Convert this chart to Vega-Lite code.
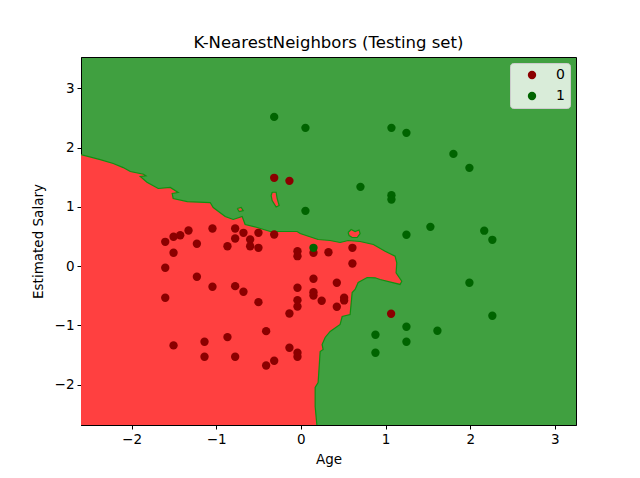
{
  "$schema": "https://vega.github.io/schema/vega-lite/v6.json",
  "width": 495,
  "height": 368,
  "autosize": {"type": "none"},
  "padding": {"left": 81, "top": 57, "right": 64, "bottom": 53},
  "background": "white",
  "title": {
    "text": "K-NearestNeighbors (Testing set)",
    "font": "DejaVu Sans",
    "fontSize": 16.5,
    "fontWeight": "normal",
    "color": "black",
    "anchor": "middle",
    "offset": 6
  },
  "datasets": {
    "region": [
      {"part": "main", "i": 0, "x": -2.7, "y": 1.89},
      {"part": "main", "i": 1, "x": -2.597, "y": 1.884},
      {"part": "main", "i": 2, "x": -2.37, "y": 1.799},
      {"part": "main", "i": 3, "x": -2.216, "y": 1.732},
      {"part": "main", "i": 4, "x": -2.098, "y": 1.664},
      {"part": "main", "i": 5, "x": -2.015, "y": 1.597},
      {"part": "main", "i": 6, "x": -1.858, "y": 1.551},
      {"part": "main", "i": 7, "x": -1.83, "y": 1.524},
      {"part": "main", "i": 8, "x": -1.897, "y": 1.513},
      {"part": "main", "i": 9, "x": -1.818, "y": 1.417},
      {"part": "main", "i": 10, "x": -1.685, "y": 1.311},
      {"part": "main", "i": 11, "x": -1.543, "y": 1.328},
      {"part": "main", "i": 12, "x": -1.449, "y": 1.243},
      {"part": "main", "i": 13, "x": -1.52, "y": 1.226},
      {"part": "main", "i": 14, "x": -1.508, "y": 1.142},
      {"part": "main", "i": 15, "x": -1.342, "y": 1.091},
      {"part": "main", "i": 16, "x": -1.071, "y": 1.074},
      {"part": "main", "i": 17, "x": -1.035, "y": 0.99},
      {"part": "main", "i": 18, "x": -0.894, "y": 0.838},
      {"part": "main", "i": 19, "x": -0.799, "y": 0.788},
      {"part": "main", "i": 20, "x": -0.693, "y": 0.838},
      {"part": "main", "i": 21, "x": -0.658, "y": 0.703},
      {"part": "main", "i": 22, "x": -0.516, "y": 0.653},
      {"part": "main", "i": 23, "x": -0.362, "y": 0.585},
      {"part": "main", "i": 24, "x": -0.044, "y": 0.585},
      {"part": "main", "i": 25, "x": -0.008, "y": 0.551},
      {"part": "main", "i": 26, "x": 0.204, "y": 0.45},
      {"part": "main", "i": 27, "x": 0.346, "y": 0.433},
      {"part": "main", "i": 28, "x": 0.464, "y": 0.4},
      {"part": "main", "i": 29, "x": 0.558, "y": 0.433},
      {"part": "main", "i": 30, "x": 0.7, "y": 0.417},
      {"part": "main", "i": 31, "x": 0.857, "y": 0.366},
      {"part": "main", "i": 32, "x": 0.995, "y": 0.253},
      {"part": "main", "i": 33, "x": 1.113, "y": 0.169},
      {"part": "main", "i": 34, "x": 1.133, "y": 0.057},
      {"part": "main", "i": 35, "x": 1.125, "y": -0.111},
      {"part": "main", "i": 36, "x": 1.192, "y": -0.253},
      {"part": "main", "i": 37, "x": 1.172, "y": -0.308},
      {"part": "main", "i": 38, "x": 0.936, "y": -0.224},
      {"part": "main", "i": 39, "x": 0.877, "y": -0.196},
      {"part": "main", "i": 40, "x": 0.783, "y": -0.191},
      {"part": "main", "i": 41, "x": 0.677, "y": -0.275},
      {"part": "main", "i": 42, "x": 0.641, "y": -0.393},
      {"part": "main", "i": 43, "x": 0.606, "y": -0.444},
      {"part": "main", "i": 44, "x": 0.582, "y": -0.815},
      {"part": "main", "i": 45, "x": 0.488, "y": -0.849},
      {"part": "main", "i": 46, "x": 0.464, "y": -0.984},
      {"part": "main", "i": 47, "x": 0.346, "y": -1.102},
      {"part": "main", "i": 48, "x": 0.287, "y": -1.203},
      {"part": "main", "i": 49, "x": 0.251, "y": -1.321},
      {"part": "main", "i": 50, "x": 0.263, "y": -1.405},
      {"part": "main", "i": 51, "x": 0.228, "y": -1.439},
      {"part": "main", "i": 52, "x": 0.204, "y": -1.962},
      {"part": "main", "i": 53, "x": 0.169, "y": -2.046},
      {"part": "main", "i": 54, "x": 0.169, "y": -2.367},
      {"part": "main", "i": 55, "x": 0.197, "y": -2.8},
      {"part": "main", "i": 56, "x": -2.7, "y": -2.8},
      {"part": "main", "i": 57, "x": -2.7, "y": 1.89},
      {"part": "a", "i": 0, "x": -0.339, "y": 1.248},
      {"part": "a", "i": 1, "x": -0.292, "y": 1.248},
      {"part": "a", "i": 2, "x": -0.28, "y": 1.142},
      {"part": "a", "i": 3, "x": -0.256, "y": 1.024},
      {"part": "a", "i": 4, "x": -0.292, "y": 0.998},
      {"part": "a", "i": 5, "x": -0.339, "y": 1.108},
      {"part": "a", "i": 6, "x": -0.351, "y": 1.192},
      {"part": "a", "i": 7, "x": -0.339, "y": 1.248},
      {"part": "b", "i": 0, "x": 0.558, "y": 0.568},
      {"part": "b", "i": 1, "x": 0.594, "y": 0.619},
      {"part": "b", "i": 2, "x": 0.641, "y": 0.585},
      {"part": "b", "i": 3, "x": 0.688, "y": 0.61},
      {"part": "b", "i": 4, "x": 0.7, "y": 0.551},
      {"part": "b", "i": 5, "x": 0.665, "y": 0.484},
      {"part": "b", "i": 6, "x": 0.606, "y": 0.484},
      {"part": "b", "i": 7, "x": 0.57, "y": 0.518},
      {"part": "b", "i": 8, "x": 0.558, "y": 0.568},
      {"part": "c", "i": 0, "x": -0.752, "y": 0.973},
      {"part": "c", "i": 1, "x": -0.705, "y": 0.99},
      {"part": "c", "i": 2, "x": -0.681, "y": 0.939},
      {"part": "c", "i": 3, "x": -0.728, "y": 0.922},
      {"part": "c", "i": 4, "x": -0.752, "y": 0.973}
    ],
    "points": [
      {"cls": "0", "age": -1.602, "salary": 0.411},
      {"cls": "0", "age": -1.504, "salary": 0.496},
      {"cls": "0", "age": -1.425, "salary": 0.523},
      {"cls": "0", "age": -1.327, "salary": 0.602},
      {"cls": "0", "age": -1.504, "salary": 0.226},
      {"cls": "0", "age": -1.228, "salary": 0.378},
      {"cls": "0", "age": -1.044, "salary": 0.636},
      {"cls": "0", "age": -1.602, "salary": -0.027},
      {"cls": "0", "age": -1.228, "salary": -0.179},
      {"cls": "0", "age": -1.044, "salary": -0.347},
      {"cls": "0", "age": -1.602, "salary": -0.533},
      {"cls": "0", "age": -0.776, "salary": 0.636},
      {"cls": "0", "age": -0.678, "salary": 0.563},
      {"cls": "0", "age": -0.776, "salary": 0.467},
      {"cls": "0", "age": -0.867, "salary": 0.337},
      {"cls": "0", "age": -0.599, "salary": 0.45},
      {"cls": "0", "age": -0.599, "salary": 0.337},
      {"cls": "0", "age": -0.501, "salary": 0.563},
      {"cls": "0", "age": -0.501, "salary": 0.31},
      {"cls": "0", "age": -0.776, "salary": -0.337},
      {"cls": "0", "age": -0.678, "salary": -0.432},
      {"cls": "0", "age": -0.501, "salary": -0.607},
      {"cls": "0", "age": -0.315, "salary": 0.535},
      {"cls": "0", "age": -0.04, "salary": 0.253},
      {"cls": "0", "age": -0.04, "salary": 0.169},
      {"cls": "0", "age": 0.149, "salary": 0.226},
      {"cls": "0", "age": 0.326, "salary": 0.236},
      {"cls": "0", "age": 0.609, "salary": 0.31},
      {"cls": "0", "age": 0.609, "salary": 0.046},
      {"cls": "0", "age": 0.149, "salary": -0.212},
      {"cls": "0", "age": 0.425, "salary": -0.28},
      {"cls": "0", "age": -0.04, "salary": -0.364},
      {"cls": "0", "age": 0.149, "salary": -0.438},
      {"cls": "0", "age": 0.149, "salary": -0.494},
      {"cls": "0", "age": 0.246, "salary": -0.583},
      {"cls": "0", "age": -0.04, "salary": -0.573},
      {"cls": "0", "age": -0.04, "salary": -0.68},
      {"cls": "0", "age": 0.511, "salary": -0.533},
      {"cls": "0", "age": 0.511, "salary": -0.578},
      {"cls": "0", "age": 0.425, "salary": -0.685},
      {"cls": "0", "age": -0.135, "salary": -0.798},
      {"cls": "0", "age": -0.41, "salary": -1.096},
      {"cls": "0", "age": -1.504, "salary": -1.337},
      {"cls": "0", "age": -1.138, "salary": -1.275},
      {"cls": "0", "age": -1.138, "salary": -1.528},
      {"cls": "0", "age": -0.867, "salary": -1.197},
      {"cls": "0", "age": -0.776, "salary": -1.528},
      {"cls": "0", "age": -0.41, "salary": -1.675},
      {"cls": "0", "age": -0.315, "salary": -1.595},
      {"cls": "0", "age": -0.135, "salary": -1.376},
      {"cls": "0", "age": -0.04, "salary": -1.46},
      {"cls": "0", "age": -0.04, "salary": -1.528},
      {"cls": "0", "age": -0.315, "salary": 1.491},
      {"cls": "0", "age": -0.135, "salary": 1.44},
      {"cls": "0", "age": 1.066, "salary": -0.803},
      {"cls": "1", "age": -0.315, "salary": 2.519},
      {"cls": "1", "age": 0.054, "salary": 2.334},
      {"cls": "1", "age": 1.07, "salary": 2.334},
      {"cls": "1", "age": 1.247, "salary": 2.25},
      {"cls": "1", "age": 1.802, "salary": 1.895},
      {"cls": "1", "age": 1.991, "salary": 1.659},
      {"cls": "1", "age": 0.704, "salary": 1.339},
      {"cls": "1", "age": 1.07, "salary": 1.197},
      {"cls": "1", "age": 1.07, "salary": 1.125},
      {"cls": "1", "age": 0.054, "salary": 0.934},
      {"cls": "1", "age": 1.53, "salary": 0.664},
      {"cls": "1", "age": 1.247, "salary": 0.53},
      {"cls": "1", "age": 2.166, "salary": 0.599},
      {"cls": "1", "age": 2.262, "salary": 0.445},
      {"cls": "1", "age": 1.991, "salary": -0.28},
      {"cls": "1", "age": 2.262, "salary": -0.836},
      {"cls": "1", "age": 1.247, "salary": -1.022},
      {"cls": "1", "age": 1.613, "salary": -1.089},
      {"cls": "1", "age": 0.881, "salary": -1.157},
      {"cls": "1", "age": 1.247, "salary": -1.275},
      {"cls": "1", "age": 0.881, "salary": -1.46},
      {"cls": "1", "age": 0.149, "salary": 0.31}
    ]
  },
  "layer": [
    {
      "data": {"name": "region"},
      "mark": {
        "type": "line",
        "filled": true,
        "fill": "#ff4040",
        "stroke": "#119011",
        "strokeWidth": 1.2,
        "clip": true
      },
      "encoding": {
        "x": {"field": "x", "type": "quantitative"},
        "y": {"field": "y", "type": "quantitative"},
        "detail": {"field": "part"},
        "order": {"field": "i", "type": "quantitative"}
      }
    },
    {
      "data": {"name": "points"},
      "mark": {"type": "circle", "size": 70, "opacity": 1, "clip": true},
      "encoding": {
        "x": {"field": "age", "type": "quantitative"},
        "y": {"field": "salary", "type": "quantitative"},
        "order": {"field": "cls"},
        "color": {
          "field": "cls",
          "type": "nominal",
          "scale": {"domain": ["0", "1"], "range": ["#8b0000", "#006400"]},
          "legend": {
            "title": null,
            "orient": "top-right",
            "offset": 6,
            "padding": 5,
            "fillColor": "rgba(255,255,255,0.8)",
            "strokeColor": "#cccccc",
            "cornerRadius": 3,
            "symbolType": "circle",
            "symbolSize": 70,
            "symbolOpacity": 1,
            "symbolOffset": 10,
            "labelOffset": 17,
            "labelFontSize": 14,
            "labelFont": "DejaVu Sans",
            "labelColor": "black",
            "rowPadding": 7
          }
        }
      }
    }
  ],
  "resolve": {"scale": {"x": "shared", "y": "shared"}},
  "encoding": {
    "x": {
      "field": "x",
      "type": "quantitative",
      "title": "Age",
      "scale": {"domain": [-2.597, 3.25], "nice": false, "zero": false},
      "axis": {"values": [-2, -1, 0, 1, 2, 3], "titlePadding": 7}
    },
    "y": {
      "field": "y",
      "type": "quantitative",
      "title": "Estimated Salary",
      "scale": {"domain": [-2.68, 3.53], "nice": false, "zero": false},
      "axis": {"values": [-2, -1, 0, 1, 2, 3], "titlePadding": 9}
    }
  },
  "config": {
    "view": {"stroke": "black", "strokeWidth": 1, "fill": "#40a040"},
    "axis": {
      "grid": false,
      "domainColor": "black",
      "domainWidth": 1,
      "tickColor": "black",
      "tickSize": 4,
      "tickWidth": 1,
      "labelPadding": 3,
      "labelFont": "DejaVu Sans",
      "labelFontSize": 13.5,
      "labelColor": "black",
      "titleFont": "DejaVu Sans",
      "titleFontSize": 13.5,
      "titleFontWeight": "normal",
      "titleColor": "black"
    }
  }
}
